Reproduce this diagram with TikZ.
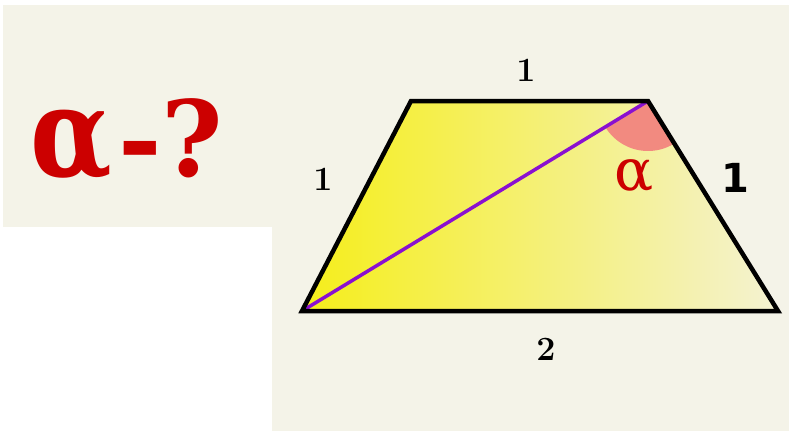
\documentclass[tikz,border=0pt]{standalone}
\usepackage{fontspec}
\usepackage{tikz}
\newfontfamily\sidefont{DejaVu Sans}
\newfontfamily\greekfont{DejaVu Serif}
\definecolor{bgbeige}{HTML}{F4F3E8}
\definecolor{qred}{HTML}{CC0000}
\definecolor{diagpurple}{HTML}{8A10D0}
\definecolor{anglepink}{HTML}{F28A80}
\definecolor{yelleft}{HTML}{F5EE1A}
\definecolor{yelright}{HTML}{F4F2D2}

\begin{document}
\begin{tikzpicture}[
  x=1pt, y=-1pt,
  side/.style={line width=4.5pt, line join=miter},
  diagonal/.style={line width=3.5pt, draw=diagpurple, line cap=round},
  seglabel/.style={inner sep=0pt, font=\fontsize{34}{34}\selectfont\bfseries},
  asked/.style={inner sep=0pt, text=qred, anchor=base west},
]
\useasboundingbox (0,0) rectangle (789,431);
% background
\fill[bgbeige] (3,5) rectangle (789,431);
\fill[white] (0,227) rectangle (272,431);

% corners of the trapezoid
\coordinate (bl) at (302,311);
\coordinate (br) at (778,311);
\coordinate (tr) at (648,101);
\coordinate (tl) at (411,101);

\begin{scope}
  \clip (bl) -- (br) -- (tr) -- (tl) -- cycle;
  \shade[left color=yelleft, right color=yelright] (302,101) rectangle (778,311);
  \fill[anglepink] (tr) -- ++(58.2:50) arc[start angle=58.2, end angle=148.9, radius=50] -- cycle;
\end{scope}

\draw[diagonal] (bl) -- (tr);
\draw[side] (bl) -- (br) -- (tr) -- (tl) -- cycle;

\node[seglabel] (top) at (526,70) {1};
\node[seglabel] (left) at (323,179) {1};
\node[seglabel] (bottom) at (546,349) {2};
\node[inner sep=0pt, font=\sidefont\bfseries\fontsize{40}{40}\selectfont] (right) at (735,178) {1};
\node[inner sep=0pt, text=qred, font=\greekfont\fontsize{58}{58}\selectfont] (alpha) at (634,176) {α};

\node[asked, font=\greekfont\bfseries\fontsize{125}{125}\selectfont] (bigalpha) at (30,176) {\scalebox{0.85}[1]{α}};
\node[asked, font=\greekfont\bfseries\fontsize{105}{105}\selectfont] (ask) at (118,176) {-?};
\end{tikzpicture}
\end{document}
